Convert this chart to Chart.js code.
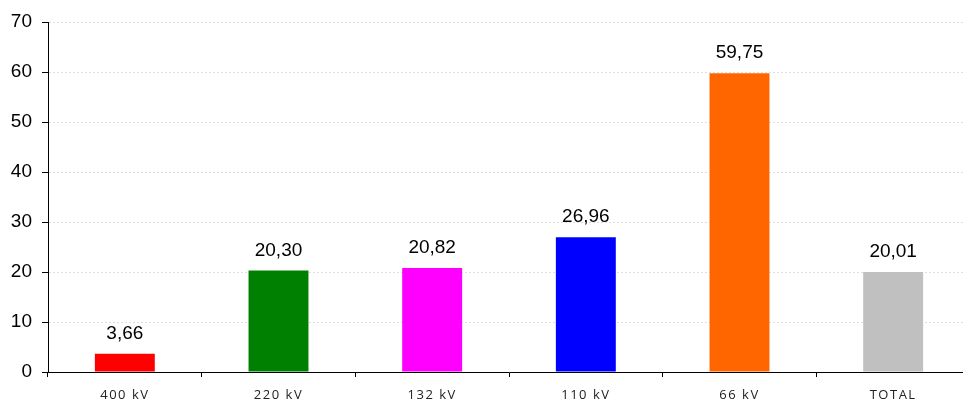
<!DOCTYPE html>
<html>
<head>
<meta charset="utf-8">
<script src="https://cdn.jsdelivr.net/npm/chart.js@4"></script>
<style>
  html, body { margin: 0; padding: 0; background: #fff; overflow: hidden; }
  #wrap { width: 970px; height: 403px; }
</style>
</head>
<body>
<div id="wrap"><canvas id="c" width="970" height="403"></canvas></div>
<script>
// Voltage levels and their values
const categories = ['400 kV', '220 kV', '132 kV', '110 kV', '66 kV', 'TOTAL'];
const values = [3.66, 20.30, 20.82, 26.96, 59.75, 20.01];
const barColors = ['#ff0000', '#008000', '#ff00ff', '#0000ff', '#ff6600', '#c0c0c0'];
const yTicks = [0, 10, 20, 30, 40, 50, 60, 70];

const fmt = v => v.toFixed(2).replace('.', ',');

// Value labels above each bar
const valueLabels = {
  id: 'valueLabels',
  afterDatasetsDraw(chart) {
    const ctx = chart.ctx;
    ctx.save();
    ctx.letterSpacing = '0px';
    ctx.font = '19px "Liberation Sans", Arial, sans-serif';
    ctx.fillStyle = '#000';
    ctx.textAlign = 'center';
    ctx.textBaseline = 'alphabetic';
    chart.getDatasetMeta(0).data.forEach((bar, i) => {
      ctx.fillText(fmt(values[i]), bar.x, bar.y - 15);
    });
    ctx.restore();
  }
};

// Spaced x-axis category text (drawn in a later layer); solid tick marks on the value axis
const axisStyle = {
  id: 'axisStyle',
  beforeDraw(chart) {
    chart.ctx.letterSpacing = '0px';
  },
  afterDatasetsDraw(chart) {
    chart.ctx.letterSpacing = '1.5px';
  },
  afterDraw(chart) {
    const ctx = chart.ctx;
    const y = chart.scales.y;
    ctx.save();
    ctx.letterSpacing = '0px';
    ctx.strokeStyle = '#000';
    ctx.lineWidth = 1;
    ctx.beginPath();
    y.ticks.forEach(t => {
      const py = Math.round(y.getPixelForValue(t.value)) + 0.5;
      ctx.moveTo(y.right - 6, py);
      ctx.lineTo(y.right, py);
    });
    ctx.stroke();
    ctx.restore();
    ctx.letterSpacing = '0px';
  }
};

new Chart(document.getElementById('c'), {
  type: 'bar',
  data: {
    labels: categories,
    datasets: [{
      data: values,
      backgroundColor: barColors,
      borderWidth: 0,
      barPercentage: 0.39,
      categoryPercentage: 1
    }]
  },
  options: {
    responsive: false,
    animation: false,
    layout: { padding: { top: 22, right: 0, left: 0, bottom: 0 } },
    plugins: { legend: { display: false }, tooltip: { enabled: false } },
    scales: {
      x: {
        grid: {
          display: true,
          drawOnChartArea: false,
          drawTicks: true,
          tickLength: 5,
          color: '#000',
          offset: true
        },
        border: { display: true, color: '#000', width: 1 },
        ticks: {
          z: 1,
          color: '#222',
          font: { family: '"Open Sans", sans-serif', size: 13 },
          padding: 10,
          maxRotation: 0,
          autoSkip: false
        },
        afterFit(scale) { scale.height = 31; }
      },
      y: {
        min: 0,
        max: 70,
        afterBuildTicks(scale) { scale.ticks = yTicks.map(v => ({ value: v })); },
        grid: {
          color: '#dddddd',
          lineWidth: 1,
          drawTicks: false
        },
        border: { display: true, color: '#000', width: 1, dash: [2, 2] },
        ticks: {
          color: '#000',
          font: { family: '"Liberation Sans", Arial, sans-serif', size: 19 },
          padding: 16
        },
        afterFit(scale) {
          scale.width = 48;
          scale.paddingTop = 0;
          scale.paddingBottom = 0;
        }
      }
    }
  },
  plugins: [valueLabels, axisStyle]
});
</script>
</body>
</html>
